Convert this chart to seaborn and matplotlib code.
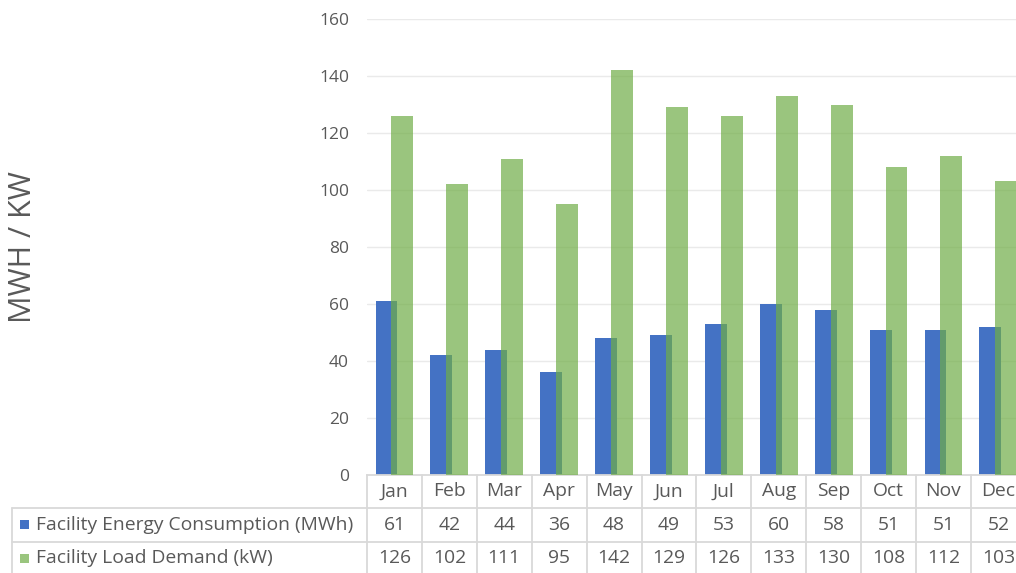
import matplotlib
matplotlib.use("Agg")
import matplotlib.pyplot as plt
import seaborn as sns
import numpy as np
import pandas as pd
from matplotlib.patches import Rectangle
from matplotlib.lines import Line2D

# ---- data ----
months = ["Jan", "Feb", "Mar", "Apr", "May", "Jun", "Jul", "Aug", "Sep", "Oct", "Nov", "Dec"]
energy_mwh = [61, 42, 44, 36, 48, 49, 53, 60, 58, 51, 51, 52]
demand_kw = [126, 102, 111, 95, 142, 129, 126, 133, 130, 108, 112, 103]
series_names = ["Facility Energy Consumption (MWh)", "Facility Load Demand (kW)"]
y_ticks = [0, 20, 40, 60, 80, 100, 120, 140, 160]
y_label = "MWH / KW"

BLUE = "#4472C4"
GREEN = "#70AD47"
TEXT = "#595959"
GRID = "#EAEAEA"
RULE = "#D9D9D9"

sns.set_theme(style="white")
plt.rcParams["font.family"] = ["Open Sans", "DejaVu Sans"]

W, H, DPI = 1016, 573, 100
fig = plt.figure(figsize=(W / DPI, H / DPI), dpi=DPI)

# plot area in pixel terms: categories span 367..1026 (runs past the right edge)
x0_px, cat_px = 367.0, 54.9
n = len(months)
ax_left, ax_right = x0_px, x0_px + cat_px * n
ax_bottom_px, ax_top_px = 475.0, 19.0
ax = fig.add_axes([ax_left / W, (H - ax_bottom_px) / H,
                   (ax_right - ax_left) / W, (ax_bottom_px - ax_top_px) / H])

idx = np.arange(n)
offset = 0.145
df_e = pd.DataFrame({"pos": idx - offset, "value": energy_mwh})
df_d = pd.DataFrame({"pos": idx + offset, "value": demand_kw})

sns.barplot(data=df_e, x="pos", y="value", native_scale=True, width=0.4,
            color=BLUE, saturation=1, ax=ax, zorder=2, linewidth=0)
sns.barplot(data=df_d, x="pos", y="value", native_scale=True, width=0.4,
            color=GREEN, saturation=1, alpha=0.7, ax=ax, zorder=3, linewidth=0)

ax.set_xlim(-0.5, n - 0.5)
ax.set_ylim(0, 160)
ax.set_yticks(y_ticks)
ax.set_yticklabels([str(t) for t in y_ticks], color=TEXT, fontsize=12.5)
ax.tick_params(axis="y", length=0, pad=13)
ax.set_xticks([])
ax.set_xlabel("")
ax.set_ylabel("")
for t in y_ticks[1:]:
    ax.axhline(t, color=GRID, lw=1.0, zorder=0)
for s in ["top", "right", "left"]:
    ax.spines[s].set_visible(False)
ax.spines["bottom"].set_color(RULE)
ax.spines["bottom"].set_linewidth(1.3)

fig.text(23 / W, 1 - 247 / H, y_label, rotation=90, ha="center", va="center",
         color=TEXT, fontsize=22)

# ---- data table under the plot, drawn on a full-figure overlay in pixel units ----
ov = fig.add_axes([0, 0, 1, 1], facecolor="none")
ov.set_xlim(0, W)
ov.set_ylim(H, 0)
ov.axis("off")

row_lines = [508.0, 541.5]
table_left = 12.0
right_end = ax_right + 5
col_edges = [x0_px + cat_px * i for i in range(n + 1)]

for y in row_lines:
    ov.add_line(Line2D([table_left, right_end], [y, y], color=RULE, lw=1.3))
ov.add_line(Line2D([table_left, table_left], [row_lines[0], H + 2], color=RULE, lw=1.3))
for xe in col_edges:
    ov.add_line(Line2D([xe, xe], [ax_bottom_px, H + 2], color=RULE, lw=1.3))

fs = 13.9
header_y = (ax_bottom_px + row_lines[0]) / 2
row_y = [(row_lines[0] + row_lines[1]) / 2, (row_lines[1] + 575) / 2]
for i, m in enumerate(months):
    cx = x0_px + cat_px * (i + 0.5)
    ov.text(cx, header_y, m, ha="center", va="center", color=TEXT, fontsize=fs)
    ov.text(cx, row_y[0], str(energy_mwh[i]), ha="center", va="center", color=TEXT, fontsize=fs)
    ov.text(cx, row_y[1], str(demand_kw[i]), ha="center", va="center", color=TEXT, fontsize=fs)

for ry, name, col, a in zip(row_y, series_names, [BLUE, GREEN], [1.0, 0.7]):
    ov.add_patch(Rectangle((20, ry - 4.5), 9, 9, color=col, alpha=a, lw=0))
    ov.text(36, ry, name, ha="left", va="center", color=TEXT, fontsize=fs)

fig.savefig("out.png", dpi=DPI)
